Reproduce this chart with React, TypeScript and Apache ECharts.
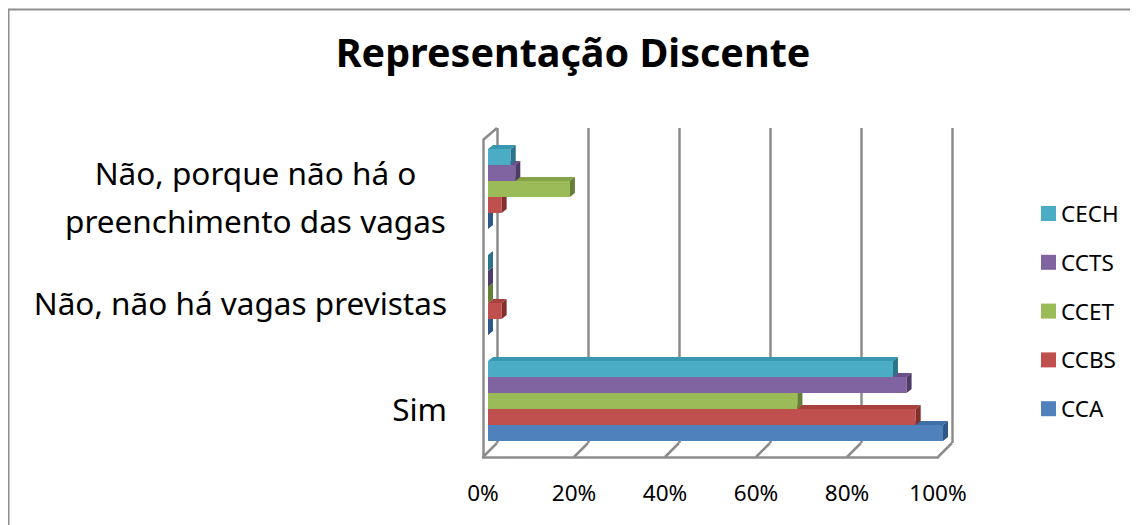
import React, { useEffect, useRef } from "react";
import * as echarts from "echarts";

const categories = [
  "Sim",
  "Não, não há vagas previstas",
  "Não, porque não há o\npreenchimento das vagas",
];
const seriesNames = ["CCA", "CCBS", "CCET", "CCTS", "CECH"];
const cca = [100, 0, 0];
const ccbs = [94, 3, 3];
const ccet = [68, 0, 18];
const ccts = [92, 0, 6];
const cech = [89, 0, 5];
const seriesValues = [cca, ccbs, ccet, ccts, cech];
const legendOrder = ["CECH", "CCTS", "CCET", "CCBS", "CCA"];
const xMin = 0;
const xMax = 100;
const xStep = 20;

const frontColors = ["#4F81BD", "#C0504D", "#9BBB59", "#8064A2", "#4BACC6"];
const topColors = ["#3E6EA6", "#A8403D", "#84A348", "#6A5089", "#3A97B0"];
const sideColors = ["#2F5787", "#852F2D", "#667F36", "#4F3B67", "#2C7489"];

// layout (container coordinates)
const BAR = { left: 480, top: 128, width: 455, height: 318 };
const FRONT = { left: 475, top: 132, width: 455, height: 317 };
const BACK = { left: 489, top: 120, width: 455, height: 315 };
const DEPTH_X = 5;
const DEPTH_Y = -4;
const FRAME = "#8C8C8C";
const FONT = "'Noto Sans', sans-serif";
const CAT_FONT_SIZE = 31.5;

function measure(text: string, size: number): number {
  const c = document.createElement("canvas").getContext("2d");
  if (!c) return text.length * size * 0.5;
  c.font = `${size}px 'Noto Sans', sans-serif`;
  return c.measureText(text).width;
}

export default function App() {
  const ref = useRef<HTMLDivElement>(null);
  useEffect(() => {
    if (!ref.current) return;
    document.body.style.overflow = "hidden";
    const chart = echarts.init(ref.current, null, { renderer: "svg" });

    const frontBottom = FRONT.top + FRONT.height;
    const backBottom = BACK.top + BACK.height;
    const nTicks = (xMax - xMin) / xStep;
    const graphics: any[] = [
      {
        type: "polyline",
        shape: { points: [[0.5, 700], [0.5, 1.5], [1300, 1.5]] },
        style: { fill: "none", stroke: "#8E8E8E", lineWidth: 2 },
        silent: true,
      },
      {
        type: "line",
        shape: { x1: FRONT.left, y1: FRONT.top, x2: BACK.left, y2: BACK.top },
        style: { stroke: FRAME, lineWidth: 2.5 },
        silent: true,
      },
    ];
    for (let k = 0; k <= nTicks; k++) {
      const fx = FRONT.left + (FRONT.width * k) / nTicks;
      const bx = BACK.left + (BACK.width * k) / nTicks;
      graphics.push({
        type: "line",
        shape: { x1: fx, y1: frontBottom, x2: bx, y2: backBottom },
        style: { stroke: FRAME, lineWidth: 2.5 },
        silent: true,
      });
    }

    const barSeries = seriesNames.map((name, sIdx) => ({
      type: "custom",
      name,
      xAxisIndex: 0,
      yAxisIndex: 0,
      color: frontColors[sIdx],
      itemStyle: { color: frontColors[sIdx] },
      encode: { x: 0, y: 1 },
      data: seriesValues[sIdx].map((v, i) => [v, i]),
      z: 3,
      renderItem: (params: any, api: any) => {
        const cat = api.value(1);
        const v = api.value(0);
        const p0 = api.coord([0, cat]);
        const p1 = api.coord([v, cat]);
        const band = api.size([0, 1])[1];
        const group = band * 0.755;
        const bh = group / 5;
        const top = p0[1] + group / 2 - (sIdx + 1) * bh;
        const x0 = p0[0];
        const x1 = p1[0];
        return {
          type: "group",
          children: [
            {
              type: "rect",
              shape: { x: x0, y: top, width: Math.max(0, x1 - x0), height: bh },
              style: { fill: frontColors[sIdx] },
            },
            {
              type: "polygon",
              shape: {
                points: [
                  [x0, top],
                  [x1, top],
                  [x1 + DEPTH_X, top + DEPTH_Y],
                  [x0 + DEPTH_X, top + DEPTH_Y],
                ],
              },
              style: { fill: topColors[sIdx] },
            },
            {
              type: "polygon",
              shape: {
                points: [
                  [x1, top],
                  [x1 + DEPTH_X, top + DEPTH_Y],
                  [x1 + DEPTH_X, top + bh + DEPTH_Y],
                  [x1, top + bh],
                ],
              },
              style: { fill: sideColors[sIdx] },
            },
          ],
        };
      },
    }));

    const multiLines = categories.filter((c) => c.includes("\n"));
    const blockWidth =
      multiLines.length > 0
        ? Math.ceil(
            Math.max(
              ...multiLines.flatMap((c) => c.split("\n").map((l) => measure(l, CAT_FONT_SIZE)))
            )
          ) + 2
        : 0;

    chart.setOption({
      animation: false,
      title: {
        text: "Representação Discente",
        left: "center",
        top: 19,
        textStyle: {
          fontFamily: FONT,
          fontSize: 39.5,
          fontWeight: "bold",
          color: "#000",
        },
      },
      legend: {
        orient: "vertical",
        left: 1028,
        top: 189,
        data: legendOrder,
        icon: "rect",
        itemWidth: 15,
        itemHeight: 15,
        itemGap: 25.8,
        textStyle: {
          fontFamily: FONT,
          fontSize: 22.5,
          lineHeight: 20,
          color: "#000",
        },
      },
      grid: [
        { ...BAR, containLabel: false },
        { ...FRONT, containLabel: false },
        { ...BACK, containLabel: false },
      ],
      xAxis: [
        {
          gridIndex: 0,
          type: "value",
          min: xMin,
          max: xMax,
          interval: xStep,
          show: false,
        },
        {
          gridIndex: 1,
          type: "value",
          min: xMin,
          max: xMax,
          interval: xStep,
          axisLine: { show: true, lineStyle: { color: FRAME, width: 2.5 } },
          axisTick: { show: false },
          splitLine: { show: false },
          axisLabel: {
            formatter: "{value}%",
            fontFamily: FONT,
            fontSize: 22.5,
            color: "#000",
            margin: 24,
          },
        },
        {
          gridIndex: 2,
          type: "value",
          min: xMin,
          max: xMax,
          interval: xStep,
          axisLine: { show: false },
          axisTick: { show: false },
          axisLabel: { show: false },
          splitLine: { show: true, lineStyle: { color: FRAME, width: 2.5 } },
        },
      ],
      yAxis: [
        {
          gridIndex: 0,
          type: "category",
          data: categories,
          show: false,
        },
        {
          gridIndex: 1,
          type: "category",
          data: categories,
          axisLine: { show: true, lineStyle: { color: FRAME, width: 2.5 } },
          axisTick: { show: false },
          splitLine: { show: false },
          axisLabel: {
            fontFamily: FONT,
            fontSize: CAT_FONT_SIZE,
            lineHeight: 48,
            color: "#000",
            margin: 36,
            align: "right",
            padding: [8, 0, 0, 0],
            formatter: (value: string) => {
              const lines = value.split("\n");
              if (lines.length === 1) return value;
              return lines.map((l) => `{c|${l}}`).join("\n");
            },
            rich: {
              c: {
                width: blockWidth,
                align: "center",
                fontFamily: FONT,
                fontSize: CAT_FONT_SIZE,
                lineHeight: 48,
                color: "#000",
              },
            },
          },
        },
        {
          gridIndex: 2,
          type: "category",
          data: categories,
          show: false,
        },
      ],
      graphic: graphics,
      series: barSeries,
    });
    return () => chart.dispose();
  }, []);
  return <div ref={ref} style={{ width: 1130, height: 517 }} />;
}
